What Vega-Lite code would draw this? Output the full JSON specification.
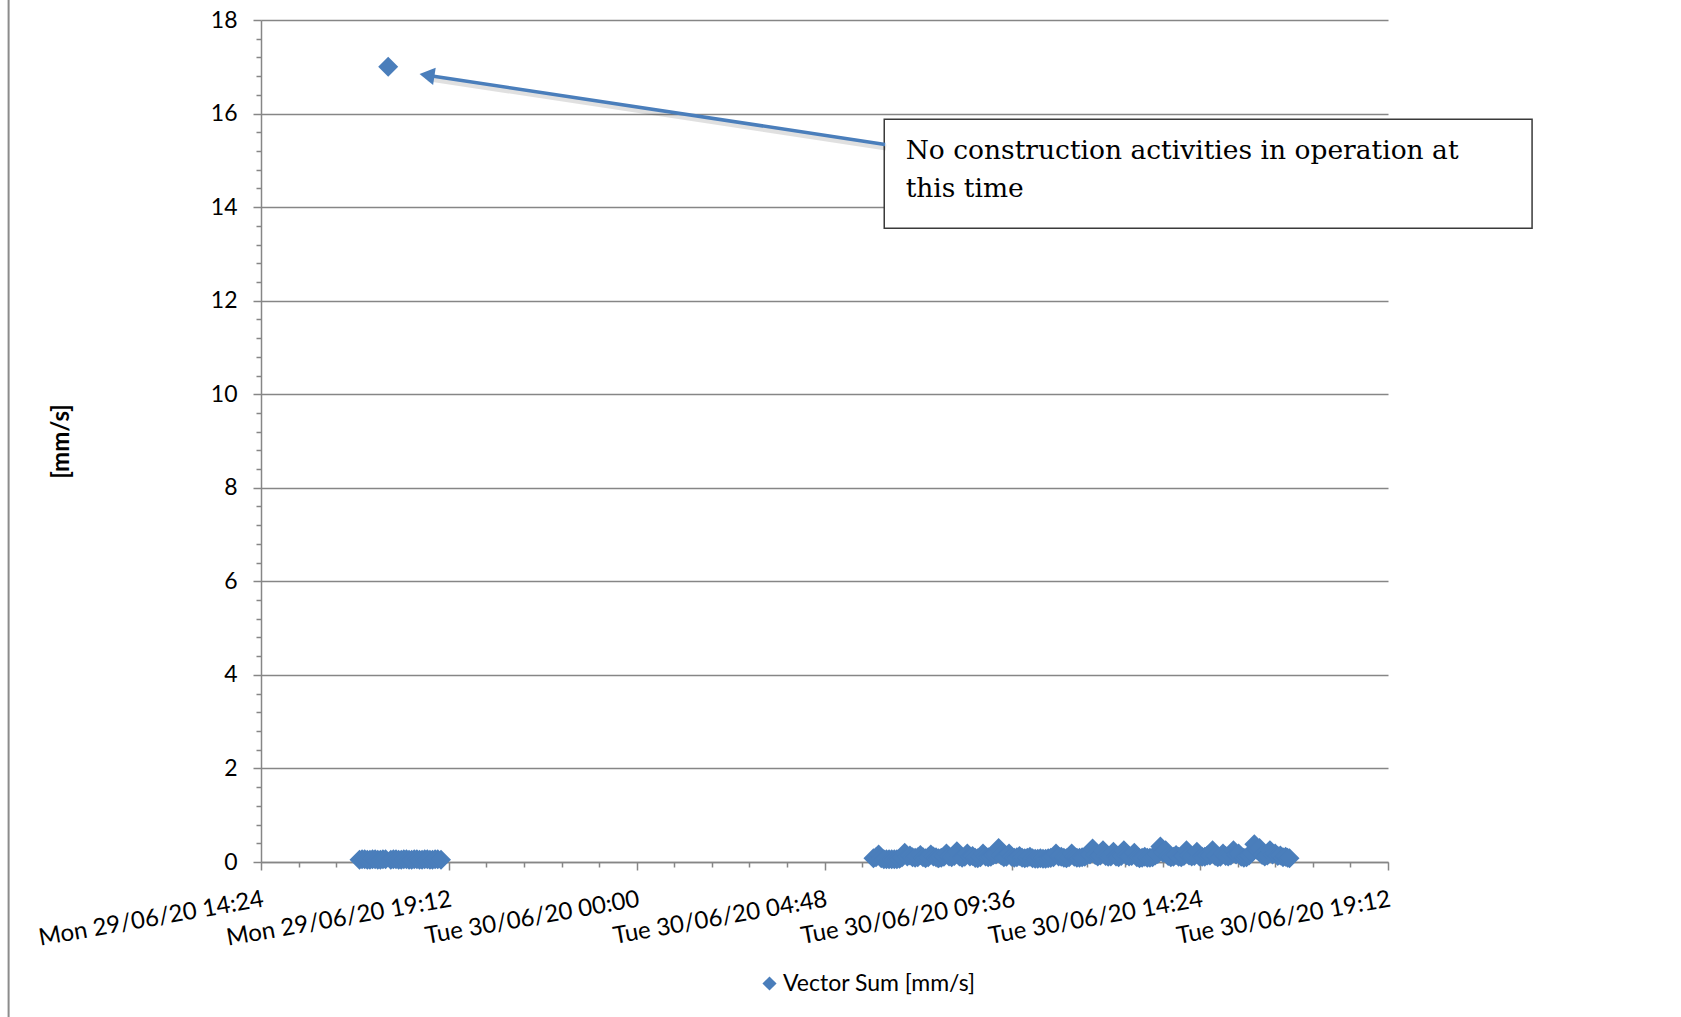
{
  "$schema": "https://vega.github.io/schema/vega-lite/v6.json",
  "width": 1127,
  "height": 842,
  "autosize": {"type": "none"},
  "padding": {"left": 261, "top": 20, "right": 293, "bottom": 155},
  "background": "white",
  "config": {"view": {"stroke": null}, "font": "Lato"},
  "datasets": {
    "vib": [
      {"t": "2020-06-29T16:55:00", "v": 0.05},
      {"t": "2020-06-29T16:59:00", "v": 0.06},
      {"t": "2020-06-29T17:03:00", "v": 0.06},
      {"t": "2020-06-29T17:07:00", "v": 0.05},
      {"t": "2020-06-29T17:11:00", "v": 0.05},
      {"t": "2020-06-29T17:15:00", "v": 0.06},
      {"t": "2020-06-29T17:19:00", "v": 0.06},
      {"t": "2020-06-29T17:23:00", "v": 0.05},
      {"t": "2020-06-29T17:27:00", "v": 0.05},
      {"t": "2020-06-29T17:31:00", "v": 0.06},
      {"t": "2020-06-29T17:35:00", "v": 0.06},
      {"t": "2020-06-29T17:39:00", "v": 17.0},
      {"t": "2020-06-29T17:43:00", "v": 0.05},
      {"t": "2020-06-29T17:47:00", "v": 0.06},
      {"t": "2020-06-29T17:51:00", "v": 0.06},
      {"t": "2020-06-29T17:55:00", "v": 0.05},
      {"t": "2020-06-29T17:59:00", "v": 0.05},
      {"t": "2020-06-29T18:03:00", "v": 0.06},
      {"t": "2020-06-29T18:07:00", "v": 0.06},
      {"t": "2020-06-29T18:11:00", "v": 0.05},
      {"t": "2020-06-29T18:15:00", "v": 0.05},
      {"t": "2020-06-29T18:19:00", "v": 0.06},
      {"t": "2020-06-29T18:23:00", "v": 0.06},
      {"t": "2020-06-29T18:27:00", "v": 0.05},
      {"t": "2020-06-29T18:31:00", "v": 0.05},
      {"t": "2020-06-29T18:35:00", "v": 0.06},
      {"t": "2020-06-29T18:39:00", "v": 0.06},
      {"t": "2020-06-29T18:43:00", "v": 0.05},
      {"t": "2020-06-29T18:47:00", "v": 0.05},
      {"t": "2020-06-29T18:51:00", "v": 0.06},
      {"t": "2020-06-29T18:55:00", "v": 0.06},
      {"t": "2020-06-29T19:00:00", "v": 0.05},
      {"t": "2020-06-30T06:03:00", "v": 0.08},
      {"t": "2020-06-30T06:07:00", "v": 0.1},
      {"t": "2020-06-30T06:11:00", "v": 0.16},
      {"t": "2020-06-30T06:15:00", "v": 0.08},
      {"t": "2020-06-30T06:19:00", "v": 0.06},
      {"t": "2020-06-30T06:23:00", "v": 0.06},
      {"t": "2020-06-30T06:27:00", "v": 0.06},
      {"t": "2020-06-30T06:31:00", "v": 0.06},
      {"t": "2020-06-30T06:35:00", "v": 0.06},
      {"t": "2020-06-30T06:39:00", "v": 0.06},
      {"t": "2020-06-30T06:43:00", "v": 0.07},
      {"t": "2020-06-30T06:47:00", "v": 0.1},
      {"t": "2020-06-30T06:51:00", "v": 0.2},
      {"t": "2020-06-30T06:55:00", "v": 0.12},
      {"t": "2020-06-30T06:59:00", "v": 0.14},
      {"t": "2020-06-30T07:03:00", "v": 0.1},
      {"t": "2020-06-30T07:07:00", "v": 0.09},
      {"t": "2020-06-30T07:11:00", "v": 0.1},
      {"t": "2020-06-30T07:15:00", "v": 0.15},
      {"t": "2020-06-30T07:19:00", "v": 0.1},
      {"t": "2020-06-30T07:23:00", "v": 0.08},
      {"t": "2020-06-30T07:27:00", "v": 0.1},
      {"t": "2020-06-30T07:31:00", "v": 0.16},
      {"t": "2020-06-30T07:35:00", "v": 0.12},
      {"t": "2020-06-30T07:39:00", "v": 0.1},
      {"t": "2020-06-30T07:43:00", "v": 0.08},
      {"t": "2020-06-30T07:47:00", "v": 0.09},
      {"t": "2020-06-30T07:51:00", "v": 0.11},
      {"t": "2020-06-30T07:55:00", "v": 0.18},
      {"t": "2020-06-30T07:59:00", "v": 0.12},
      {"t": "2020-06-30T08:03:00", "v": 0.1},
      {"t": "2020-06-30T08:07:00", "v": 0.13},
      {"t": "2020-06-30T08:11:00", "v": 0.23},
      {"t": "2020-06-30T08:15:00", "v": 0.12},
      {"t": "2020-06-30T08:19:00", "v": 0.09},
      {"t": "2020-06-30T08:23:00", "v": 0.11},
      {"t": "2020-06-30T08:27:00", "v": 0.18},
      {"t": "2020-06-30T08:31:00", "v": 0.12},
      {"t": "2020-06-30T08:35:00", "v": 0.13},
      {"t": "2020-06-30T08:39:00", "v": 0.09},
      {"t": "2020-06-30T08:43:00", "v": 0.08},
      {"t": "2020-06-30T08:47:00", "v": 0.1},
      {"t": "2020-06-30T08:51:00", "v": 0.18},
      {"t": "2020-06-30T08:55:00", "v": 0.12},
      {"t": "2020-06-30T08:59:00", "v": 0.1},
      {"t": "2020-06-30T09:03:00", "v": 0.11},
      {"t": "2020-06-30T09:07:00", "v": 0.15},
      {"t": "2020-06-30T09:11:00", "v": 0.16},
      {"t": "2020-06-30T09:15:00", "v": 0.3},
      {"t": "2020-06-30T09:19:00", "v": 0.14},
      {"t": "2020-06-30T09:23:00", "v": 0.1},
      {"t": "2020-06-30T09:27:00", "v": 0.11},
      {"t": "2020-06-30T09:31:00", "v": 0.18},
      {"t": "2020-06-30T09:35:00", "v": 0.11},
      {"t": "2020-06-30T09:39:00", "v": 0.09},
      {"t": "2020-06-30T09:43:00", "v": 0.1},
      {"t": "2020-06-30T09:47:00", "v": 0.13},
      {"t": "2020-06-30T09:51:00", "v": 0.09},
      {"t": "2020-06-30T09:55:00", "v": 0.08},
      {"t": "2020-06-30T09:59:00", "v": 0.09},
      {"t": "2020-06-30T10:03:00", "v": 0.11},
      {"t": "2020-06-30T10:07:00", "v": 0.08},
      {"t": "2020-06-30T10:11:00", "v": 0.07},
      {"t": "2020-06-30T10:15:00", "v": 0.07},
      {"t": "2020-06-30T10:19:00", "v": 0.08},
      {"t": "2020-06-30T10:23:00", "v": 0.07},
      {"t": "2020-06-30T10:27:00", "v": 0.07},
      {"t": "2020-06-30T10:31:00", "v": 0.08},
      {"t": "2020-06-30T10:35:00", "v": 0.09},
      {"t": "2020-06-30T10:39:00", "v": 0.1},
      {"t": "2020-06-30T10:43:00", "v": 0.18},
      {"t": "2020-06-30T10:47:00", "v": 0.12},
      {"t": "2020-06-30T10:51:00", "v": 0.11},
      {"t": "2020-06-30T10:55:00", "v": 0.09},
      {"t": "2020-06-30T10:59:00", "v": 0.08},
      {"t": "2020-06-30T11:03:00", "v": 0.1},
      {"t": "2020-06-30T11:07:00", "v": 0.18},
      {"t": "2020-06-30T11:11:00", "v": 0.11},
      {"t": "2020-06-30T11:15:00", "v": 0.09},
      {"t": "2020-06-30T11:19:00", "v": 0.09},
      {"t": "2020-06-30T11:23:00", "v": 0.1},
      {"t": "2020-06-30T11:27:00", "v": 0.11},
      {"t": "2020-06-30T11:31:00", "v": 0.15},
      {"t": "2020-06-30T11:35:00", "v": 0.16},
      {"t": "2020-06-30T11:39:00", "v": 0.29},
      {"t": "2020-06-30T11:43:00", "v": 0.15},
      {"t": "2020-06-30T11:47:00", "v": 0.12},
      {"t": "2020-06-30T11:51:00", "v": 0.14},
      {"t": "2020-06-30T11:55:00", "v": 0.25},
      {"t": "2020-06-30T11:59:00", "v": 0.13},
      {"t": "2020-06-30T12:03:00", "v": 0.11},
      {"t": "2020-06-30T12:07:00", "v": 0.12},
      {"t": "2020-06-30T12:11:00", "v": 0.22},
      {"t": "2020-06-30T12:15:00", "v": 0.12},
      {"t": "2020-06-30T12:19:00", "v": 0.1},
      {"t": "2020-06-30T12:23:00", "v": 0.13},
      {"t": "2020-06-30T12:27:00", "v": 0.25},
      {"t": "2020-06-30T12:31:00", "v": 0.14},
      {"t": "2020-06-30T12:35:00", "v": 0.12},
      {"t": "2020-06-30T12:39:00", "v": 0.13},
      {"t": "2020-06-30T12:43:00", "v": 0.2},
      {"t": "2020-06-30T12:47:00", "v": 0.1},
      {"t": "2020-06-30T12:51:00", "v": 0.08},
      {"t": "2020-06-30T12:55:00", "v": 0.09},
      {"t": "2020-06-30T12:59:00", "v": 0.11},
      {"t": "2020-06-30T13:03:00", "v": 0.09},
      {"t": "2020-06-30T13:07:00", "v": 0.09},
      {"t": "2020-06-30T13:11:00", "v": 0.1},
      {"t": "2020-06-30T13:15:00", "v": 0.14},
      {"t": "2020-06-30T13:19:00", "v": 0.17},
      {"t": "2020-06-30T13:23:00", "v": 0.33},
      {"t": "2020-06-30T13:27:00", "v": 0.2},
      {"t": "2020-06-30T13:31:00", "v": 0.25},
      {"t": "2020-06-30T13:35:00", "v": 0.13},
      {"t": "2020-06-30T13:39:00", "v": 0.1},
      {"t": "2020-06-30T13:43:00", "v": 0.11},
      {"t": "2020-06-30T13:47:00", "v": 0.15},
      {"t": "2020-06-30T13:51:00", "v": 0.11},
      {"t": "2020-06-30T13:55:00", "v": 0.1},
      {"t": "2020-06-30T13:59:00", "v": 0.13},
      {"t": "2020-06-30T14:03:00", "v": 0.25},
      {"t": "2020-06-30T14:07:00", "v": 0.14},
      {"t": "2020-06-30T14:11:00", "v": 0.12},
      {"t": "2020-06-30T14:15:00", "v": 0.13},
      {"t": "2020-06-30T14:19:00", "v": 0.22},
      {"t": "2020-06-30T14:23:00", "v": 0.12},
      {"t": "2020-06-30T14:27:00", "v": 0.11},
      {"t": "2020-06-30T14:31:00", "v": 0.11},
      {"t": "2020-06-30T14:35:00", "v": 0.14},
      {"t": "2020-06-30T14:39:00", "v": 0.14},
      {"t": "2020-06-30T14:43:00", "v": 0.25},
      {"t": "2020-06-30T14:47:00", "v": 0.13},
      {"t": "2020-06-30T14:51:00", "v": 0.1},
      {"t": "2020-06-30T14:55:00", "v": 0.11},
      {"t": "2020-06-30T14:59:00", "v": 0.18},
      {"t": "2020-06-30T15:03:00", "v": 0.13},
      {"t": "2020-06-30T15:07:00", "v": 0.12},
      {"t": "2020-06-30T15:11:00", "v": 0.14},
      {"t": "2020-06-30T15:15:00", "v": 0.25},
      {"t": "2020-06-30T15:19:00", "v": 0.16},
      {"t": "2020-06-30T15:23:00", "v": 0.18},
      {"t": "2020-06-30T15:27:00", "v": 0.11},
      {"t": "2020-06-30T15:31:00", "v": 0.09},
      {"t": "2020-06-30T15:35:00", "v": 0.1},
      {"t": "2020-06-30T15:39:00", "v": 0.14},
      {"t": "2020-06-30T15:43:00", "v": 0.2},
      {"t": "2020-06-30T15:47:00", "v": 0.38},
      {"t": "2020-06-30T15:51:00", "v": 0.26},
      {"t": "2020-06-30T15:55:00", "v": 0.3},
      {"t": "2020-06-30T15:59:00", "v": 0.15},
      {"t": "2020-06-30T16:03:00", "v": 0.12},
      {"t": "2020-06-30T16:07:00", "v": 0.14},
      {"t": "2020-06-30T16:11:00", "v": 0.25},
      {"t": "2020-06-30T16:15:00", "v": 0.16},
      {"t": "2020-06-30T16:19:00", "v": 0.18},
      {"t": "2020-06-30T16:23:00", "v": 0.13},
      {"t": "2020-06-30T16:27:00", "v": 0.14},
      {"t": "2020-06-30T16:31:00", "v": 0.1},
      {"t": "2020-06-30T16:35:00", "v": 0.11},
      {"t": "2020-06-30T16:38:00", "v": 0.09},
      {"t": "2020-06-30T16:41:00", "v": 0.08}
    ],
    "note": [{"t": "2020-06-30T06:52:24", "v": 15.02, "txt": "No construction activities in operation at\nthis time"}],
    "box": [{"t": "2020-06-30T06:19:36", "t2": "2020-06-30T22:52:54", "v": 15.88, "v2": 13.55}],
    "arrow": [{"t": "2020-06-30T06:20:54", "v": 15.34}, {"t": "2020-06-29T18:38:30", "v": 16.82}],
    "head": [{"t": "2020-06-29T18:38:30", "v": 16.82}]
  },
  "layer": [
    {
      "data": {"name": "vib"},
      "mark": {"type": "point", "shape": "diamond", "filled": true, "size": 400, "opacity": 1, "strokeWidth": 0, "clip": false},
      "encoding": {
        "x": {
          "field": "t", "type": "temporal",
          "scale": {"domain": [{"year": 2020, "month": 6, "date": 29, "hours": 14, "minutes": 24}, {"year": 2020, "month": 6, "date": 30, "hours": 19, "minutes": 12}], "nice": false},
          "axis": {
            "title": null,
            "values": {"expr": "sequence(datetime(2020,5,29,14,24), datetime(2020,5,30,19,13), 3456000)"},
            "tickCount": 200,
            "labelExpr": "abs((datum.value - datetime(2020,5,29,14,24)) % 17280000) < 1000 ? timeFormat(datum.value, '%a %d/%m/%y %H:%M') : ''",
            "labelAngle": -10, "labelAlign": "right", "labelBaseline": "top",
            "labelFont": "Lato", "labelFontSize": 24, "labelColor": "#000000", "labelPadding": 17,
            "labelOverlap": false, "labelFlush": false, "labelBound": false, "labelLimit": 0,
            "tickSize": {"condition": {"test": "abs((datum.value - datetime(2020,5,29,14,24)) % 17280000) < 1000", "value": 8}, "value": 5},
            "tickColor": "#868686", "tickWidth": 1.5,
            "domainColor": "#868686", "domainWidth": 1.5,
            "grid": false
          }
        },
        "y": {
          "field": "v", "type": "quantitative",
          "scale": {"domain": [0, 18], "nice": false},
          "axis": {
            "title": "[mm/s]", "titleFont": "Lato", "titleFontSize": 24, "titleFontWeight": "bold", "titleColor": "#000000",
            "titleX": -200, "titleY": 421, "titleAngle": -90, "titleBaseline": "middle", "titleAlign": "center",
            "values": {"expr": "sequence(0, 18.2, 0.4)"},
            "tickCount": 200,
            "labelExpr": "abs(datum.value/2 - round(datum.value/2)) < 0.001 ? format(datum.value, 'd') : ''",
            "labelFont": "Lato", "labelFontSize": 23, "labelPadding": 16, "labelColor": "#000000",
            "labelOverlap": false, "labelFlush": false, "labelLimit": 0,
            "tickSize": {"condition": {"test": "abs(datum.value/2 - round(datum.value/2)) < 0.001", "value": 8}, "value": 5},
            "tickColor": "#868686", "tickWidth": 1.5,
            "grid": true,
            "gridOpacity": {"condition": {"test": "abs(datum.value/2 - round(datum.value/2)) < 0.001", "value": 1}, "value": 0},
            "gridColor": "#868686", "gridWidth": 1.5,
            "domainColor": "#868686", "domainWidth": 1.5
          }
        },
        "color": {
          "datum": "Vector Sum [mm/s]", "type": "nominal",
          "scale": {"range": ["#4a7ebb"]},
          "legend": {
            "title": null, "orient": "none", "legendX": 497, "legendY": 952,
            "symbolType": "diamond", "symbolSize": 200, "symbolStrokeWidth": 0,
            "labelFont": "Lato", "labelFontSize": 23, "labelColor": "#000000", "labelOffset": 2, "labelLimit": 0, "padding": 0
          }
        }
      }
    },
    {
      "data": {"values": [{}]},
      "mark": {"type": "rule", "color": "#8c8c8c", "strokeWidth": 2, "clip": false},
      "encoding": {
        "x": {"datum": {"year": 2020, "month": 6, "date": 29, "hours": 7, "minutes": 57}, "type": "temporal"},
        "y": {"datum": 18.45, "type": "quantitative"},
        "y2": {"datum": -3.35}
      }
    },
    {
      "data": {"name": "box"},
      "mark": {"type": "rect", "fill": "white", "stroke": "#3a3a3a", "strokeWidth": 1.5, "clip": false},
      "encoding": {
        "x": {"field": "t", "type": "temporal"},
        "x2": {"field": "t2"},
        "y": {"field": "v", "type": "quantitative"},
        "y2": {"field": "v2"}
      }
    },
    {
      "data": {"name": "arrow"},
      "mark": {"type": "line", "color": "#000000", "opacity": 0.12, "strokeWidth": 6, "yOffset": 3, "xOffset": 1, "clip": false},
      "encoding": {
        "x": {"field": "t", "type": "temporal"},
        "y": {"field": "v", "type": "quantitative"}
      }
    },
    {
      "data": {"name": "arrow"},
      "mark": {"type": "line", "color": "#4a7ebb", "strokeWidth": 3.5, "clip": false},
      "encoding": {
        "x": {"field": "t", "type": "temporal"},
        "y": {"field": "v", "type": "quantitative"}
      }
    },
    {
      "data": {"name": "head"},
      "mark": {"type": "point", "shape": "triangle-left", "angle": 8.6, "filled": true, "size": 300, "color": "#4a7ebb", "opacity": 1, "strokeWidth": 0, "clip": false},
      "encoding": {
        "x": {"field": "t", "type": "temporal"},
        "y": {"field": "v", "type": "quantitative"}
      }
    },
    {
      "data": {"name": "note"},
      "mark": {"type": "text", "align": "left", "baseline": "alphabetic", "font": "DejaVu Serif", "fontSize": 26.5, "lineHeight": 37.4, "lineBreak": "\n", "color": "#000000", "clip": false},
      "encoding": {
        "x": {"field": "t", "type": "temporal"},
        "y": {"field": "v", "type": "quantitative"},
        "text": {"field": "txt", "type": "nominal"}
      }
    }
  ]
}
